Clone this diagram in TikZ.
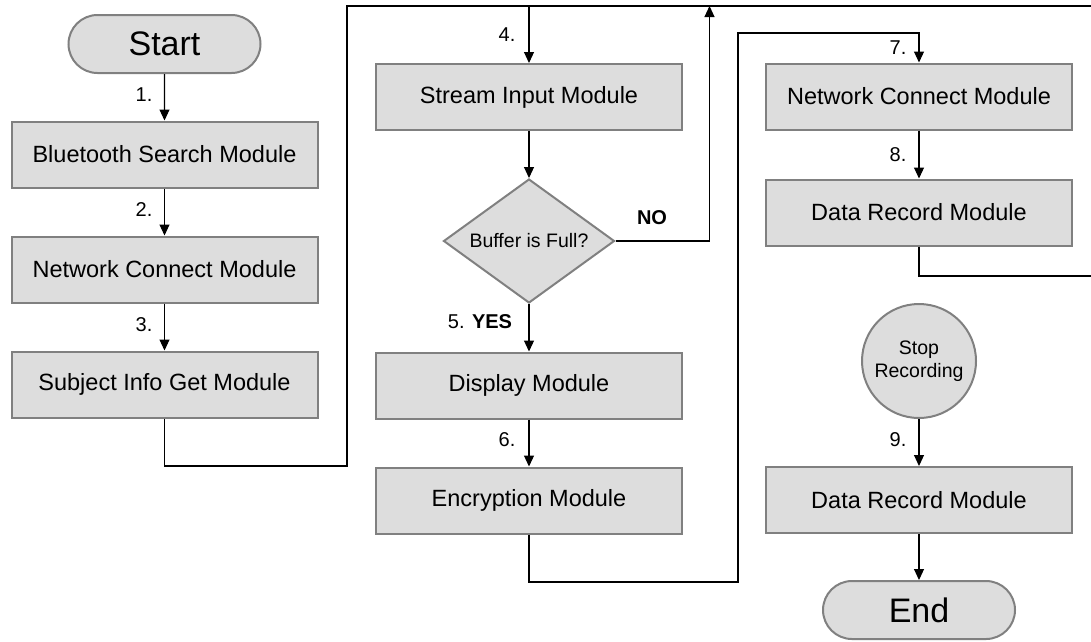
\documentclass[tikz,border=0pt]{standalone}
\usepackage{fontspec}
\setmainfont{Liberation Sans}
\usetikzlibrary{shapes.geometric,shapes.misc,arrows.meta}

\definecolor{boxfill}{HTML}{DDDDDD}
\definecolor{boxline}{HTML}{808080}

\begin{document}
\begin{tikzpicture}[x=1pt,y=-1pt,
  module/.style={draw=boxline, fill=boxfill, line width=2pt,
    minimum width=306pt, minimum height=66pt, inner sep=0pt,
    font=\fontsize{23.5}{27}\selectfont},
  terminal/.style={draw=boxline, fill=boxfill, line width=2pt,
    rounded rectangle, minimum width=192pt, minimum height=58pt,
    inner sep=0pt, font=\fontsize{34}{40}\selectfont},
  decision/.style={draw=boxline, fill=boxfill, line width=2pt,
    diamond, aspect=1.37, minimum width=171pt, minimum height=124pt,
    inner sep=0pt, font=\fontsize{19.5}{23}\selectfont},
  stopper/.style={draw=boxline, fill=boxfill, line width=2pt,
    circle, minimum size=114pt, inner sep=0pt, align=center,
    font=\fontsize{19.5}{23}\selectfont},
  link/.style={draw=black, line width=1.1pt},
  arr/.style={link, -{Triangle[length=11pt,width=10pt]}},
  steplabel/.style={font=\fontsize{20}{24}\selectfont, inner sep=0pt},
]
\useasboundingbox (0,0) rectangle (1091,641);

% left column
\node[terminal] (start) at (164.5,44) {Start};
\node[module] (bt)  at (164.5,154.5) {Bluetooth Search Module};
\node[module] (nc1) at (164.5,269.5) {Network Connect Module};
\node[module] (si)  at (164.5,384.5) {Subject Info Get Module};

% middle column
\node[module] (stream) at (529,97) {Stream Input Module};
\node[decision] (dec) at (529,241) {Buffer is Full?};
\node[module] (disp) at (529,385.5) {Display Module};
\node[module] (enc)  at (529,500.5) {Encryption Module};

% right column
\node[module] (nc2) at (919,96.5) {Network Connect Module};
\node[module] (dr1) at (919,212.5) {Data Record Module};
\node[stopper] (stop) at (919,361) {Stop\\Recording};
\node[module] (dr2) at (919,500) {Data Record Module};
\node[terminal] (endn) at (919,610) {End};

% routing points
\coordinate (c1) at (347,466);
\coordinate (topR) at (1091,6);
\coordinate (noTop) at (709.5,6);
\coordinate (c2) at (738,582);
\coordinate (c3) at (738,33);
\coordinate (drR) at (1091,276);

% connectors
\draw[arr] (start) -- (bt);
\draw[arr] (bt) -- (nc1);
\draw[arr] (nc1) -- (si);
\draw[link] (si.south) |- (c1) |- (topR);
\draw[arr] (stream.north |- topR) -- (stream.north);
\draw[arr] (stream) -- (dec);
\draw[arr] (dec) -- (disp);
\draw[arr] (dec.east) -| (noTop);
\draw[arr] (disp) -- (enc);
\draw[arr] (enc.south) |- (c2) -- (c3) -| (nc2.north);
\draw[arr] (nc2) -- (dr1);
\draw[link] (dr1.south) |- (drR);
\draw[arr] (stop) -- (dr2);
\draw[arr] (dr2) -- (endn);

% step labels
\node[steplabel] (l1) at (144,95) {1.};
\node[steplabel] (l2) at (144,210) {2.};
\node[steplabel] (l3) at (144,325) {3.};
\node[steplabel] (l4) at (507,35) {4.};
\node[steplabel] (l5) at (480,322) {5. \textbf{YES}};
\node[steplabel] (lno) at (652,218) {\textbf{NO}};
\node[steplabel] (l6) at (507,440) {6.};
\node[steplabel] (l7) at (898,48) {7.};
\node[steplabel] (l8) at (898,155) {8.};
\node[steplabel] (l9) at (898,440) {9.};
\end{tikzpicture}
\end{document}
